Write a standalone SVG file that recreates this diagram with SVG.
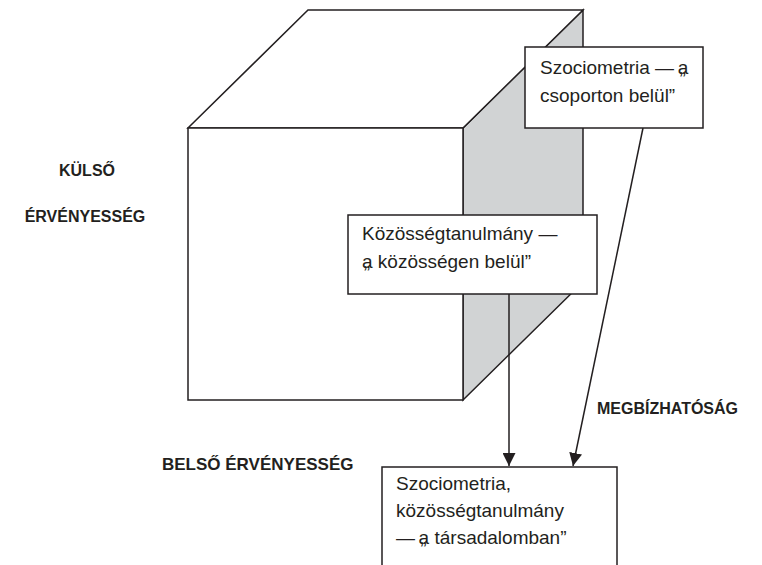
<svg xmlns="http://www.w3.org/2000/svg" width="762" height="565" viewBox="0 0 762 565">
<defs>
<style>
.ln{fill:none;stroke:#231f20;stroke-width:1.5}
.face{fill:#fff;stroke:#231f20;stroke-width:1.5;stroke-linejoin:miter}
.side{fill:#d1d3d4;stroke:#231f20;stroke-width:1.5}
.box{fill:#fff;stroke:#231f20;stroke-width:1.5}
.t{font-family:"Liberation Sans",Arial,sans-serif;font-size:19px;fill:#231f20}
.b{font-family:"Liberation Sans",Arial,sans-serif;font-size:16px;font-weight:bold;fill:#231f20}
</style>
<marker id="ah" markerWidth="13" markerHeight="13" refX="13" refY="6.5" orient="auto" markerUnits="userSpaceOnUse">
<path d="M0,0 L13,6.5 L0,13 Z" fill="#231f20"/>
</marker>
</defs>
<g id="cube">
<polygon class="side" points="463,128 583,10 583,282 463,400"/>
<polygon class="face" points="308,10 583,10 463,128 188,128"/>
<rect class="face" x="188" y="128" width="275" height="272"/>
</g>
<g id="labels">
<text class="b" x="87" y="176" text-anchor="middle">KÜLSŐ</text>
<text class="b" x="85" y="222" text-anchor="middle">ÉRVÉNYESSÉG</text>
<text class="b" x="597" y="414">MEGBÍZHATÓSÁG</text>
<text class="b" x="162" y="470" style="font-size:17px">BELSŐ ÉRVÉNYESSÉG</text>
</g>
<g id="connectors">
<line class="ln" x1="509" y1="294" x2="509" y2="466" marker-end="url(#ah)"/>
<line class="ln" x1="643" y1="128" x2="573" y2="466" marker-end="url(#ah)"/>
</g>
<g id="box1">
<rect class="box" x="525" y="47" width="178" height="81"/>
<text class="t" x="540" y="74">Szociometria — <tspan>„</tspan><tspan dx="-8">a</tspan></text>
<text class="t" x="540" y="102">csoporton belül”</text>
</g>
<g id="box2">
<rect class="box" x="348" y="215" width="249" height="79"/>
<text class="t" x="362" y="240">Közösségtanulmány —</text>
<text class="t" x="362" y="268"><tspan>„</tspan><tspan dx="-8">a</tspan> közösségen belül”</text>
</g>
<g id="box3">
<rect class="box" x="382" y="467" width="235" height="110"/>
<text class="t" x="396" y="490">Szociometria,</text>
<text class="t" x="396" y="517">közösségtanulmány</text>
<text class="t" x="396" y="544">— <tspan>„</tspan><tspan dx="-8">a</tspan> társadalomban”</text>
</g>
</svg>
